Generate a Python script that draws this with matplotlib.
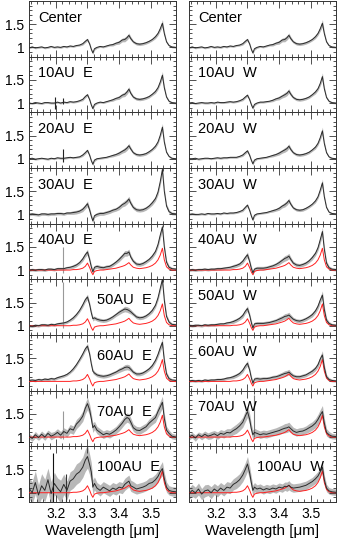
import matplotlib
matplotlib.use('Agg')
import matplotlib.pyplot as plt
from matplotlib.ticker import MultipleLocator, FixedLocator, FixedFormatter
import numpy as np

plt.rcParams['font.family'] = ['Liberation Sans', 'DejaVu Sans']

wavelength = [3.115, 3.125, 3.135, 3.145, 3.155, 3.165, 3.175, 3.185, 3.195, 3.205,
              3.215, 3.225, 3.235, 3.245, 3.255, 3.265, 3.275, 3.285, 3.293, 3.300,
              3.307, 3.312, 3.317, 3.322, 3.330, 3.340, 3.350, 3.360, 3.370, 3.380,
              3.390, 3.400, 3.410, 3.418, 3.425, 3.431, 3.437, 3.445, 3.455, 3.465,
              3.475, 3.485, 3.495, 3.505, 3.515, 3.523, 3.530, 3.537, 3.543, 3.550,
              3.558, 3.567, 3.580]

center = [0.99,1.01,0.99,1.00,1.01,0.99,1.00,1.02,1.00,1.01,1.00,1.02,1.01,1.03,1.02,1.04,1.05,1.08,1.13,1.17,
          1.07,0.96,0.88,0.97,1.00,1.02,1.01,1.03,1.05,1.06,1.09,1.11,1.16,1.17,1.21,1.26,1.19,1.12,1.08,1.07,
          1.08,1.10,1.13,1.17,1.23,1.30,1.40,1.52,1.30,1.12,1.04,1.01,1.00]
center_err = [0.02,0.02,0.02,0.02,0.02,0.02,0.02,0.02,0.02,0.02,0.02,0.02,0.02,0.02,0.02,0.02,0.02,0.03,0.03,0.03,
              0.03,0.03,0.03,0.03,0.02,0.02,0.02,0.02,0.02,0.03,0.03,0.04,0.04,0.05,0.05,0.05,0.04,0.03,0.03,0.03,
              0.03,0.03,0.03,0.03,0.04,0.04,0.05,0.08,0.05,0.03,0.02,0.02,0.02]

red_ref = [1.00,1.00,1.00,1.00,1.00,1.00,1.00,1.00,1.00,1.00,1.00,1.00,1.00,1.00,1.01,1.01,1.02,1.04,1.08,1.15,
           1.05,0.96,0.90,0.97,0.99,1.00,1.00,1.01,1.02,1.03,1.04,1.06,1.08,1.10,1.13,1.16,1.11,1.06,1.04,1.03,
           1.04,1.05,1.07,1.10,1.15,1.22,1.32,1.47,1.22,1.07,1.02,1.00,1.00]

au10_e = [1.00,0.99,1.01,1.00,0.99,1.01,1.01,1.00,1.00,1.02,1.00,1.02,1.01,1.03,1.02,1.03,1.05,1.08,1.14,1.18,
          1.07,0.96,0.88,0.97,1.00,1.02,1.01,1.03,1.05,1.07,1.10,1.12,1.17,1.19,1.24,1.30,1.21,1.13,1.09,1.08,
          1.09,1.11,1.14,1.19,1.25,1.33,1.45,1.60,1.33,1.13,1.04,1.01,1.00]
au20_e = [1.00,1.01,0.99,1.00,1.01,1.00,0.99,1.01,1.00,1.02,1.01,1.01,1.02,1.03,1.02,1.03,1.04,1.08,1.13,1.18,
          1.07,0.96,0.88,0.97,1.00,1.01,1.02,1.03,1.05,1.07,1.09,1.12,1.16,1.19,1.23,1.28,1.21,1.13,1.09,1.08,
          1.09,1.11,1.15,1.20,1.27,1.36,1.50,1.68,1.36,1.14,1.05,1.01,1.00]
au30_e = [1.00,1.01,1.00,0.99,1.01,1.01,1.00,1.01,1.01,1.02,1.02,1.01,1.03,1.03,1.04,1.05,1.07,1.11,1.17,1.23,
          1.09,0.96,0.86,0.97,1.00,1.02,1.02,1.04,1.06,1.09,1.11,1.15,1.21,1.24,1.28,1.33,1.24,1.15,1.10,1.09,
          1.10,1.13,1.18,1.25,1.34,1.48,1.70,1.97,1.50,1.18,1.06,1.02,1.01]
au40_e = [1.00,1.01,1.00,1.01,1.01,1.00,1.02,1.02,1.01,1.03,1.03,1.03,1.05,1.06,1.08,1.11,1.16,1.24,1.33,1.39,
          1.22,1.07,0.96,1.06,1.08,1.06,1.05,1.07,1.08,1.12,1.17,1.23,1.30,1.36,1.36,1.39,1.28,1.19,1.13,1.12,
          1.14,1.18,1.23,1.30,1.40,1.55,1.75,1.93,1.50,1.17,1.06,1.03,1.02]
au50_e = [1.00,0.99,1.01,1.00,1.02,1.02,1.01,1.03,1.02,1.04,1.05,1.06,1.08,1.12,1.17,1.24,1.33,1.45,1.56,1.62,
          1.45,1.28,1.15,1.17,1.14,1.12,1.11,1.12,1.15,1.19,1.24,1.29,1.33,1.36,1.35,1.33,1.30,1.25,1.19,1.17,
          1.18,1.21,1.26,1.33,1.44,1.60,1.80,2.00,1.55,1.20,1.08,1.03,1.02]
au60_e = [1.02,1.03,1.02,1.04,1.03,1.05,1.04,1.06,1.05,1.08,1.10,1.12,1.15,1.20,1.27,1.36,1.47,1.59,1.70,1.76,
          1.58,1.38,1.22,1.18,1.14,1.12,1.11,1.12,1.14,1.17,1.20,1.24,1.27,1.30,1.31,1.30,1.26,1.20,1.16,1.16,
          1.18,1.22,1.27,1.34,1.45,1.58,1.72,1.84,1.45,1.16,1.06,1.03,1.02]
au70_e = [1.02,0.97,1.05,0.99,1.06,1.00,1.08,1.02,1.05,1.10,1.04,1.12,1.08,1.18,1.15,1.28,1.35,1.45,1.62,1.72,
          1.58,1.40,1.20,1.25,1.15,1.10,1.05,1.08,1.06,1.10,1.15,1.22,1.30,1.38,1.42,1.40,1.32,1.20,1.15,1.14,
          1.18,1.22,1.30,1.36,1.42,1.55,1.65,1.75,1.40,1.15,1.08,1.02,1.00]
au100_e = [1.10,1.00,1.22,0.95,1.15,1.05,1.28,0.98,1.20,1.10,1.02,1.18,1.05,1.25,1.30,1.40,1.45,1.55,1.70,1.78,
           1.60,1.45,1.12,1.20,1.10,1.05,1.12,1.08,1.04,1.10,1.07,1.12,1.10,1.18,1.22,1.25,1.15,1.12,1.08,1.10,
           1.12,1.15,1.20,1.22,1.28,1.35,1.45,1.52,1.30,1.12,1.05,1.03,1.02]

au10_w = [1.00,1.01,0.99,1.00,1.01,1.00,1.00,1.01,1.00,1.02,1.01,1.01,1.02,1.03,1.02,1.03,1.05,1.08,1.13,1.17,
          1.07,0.97,0.89,0.97,1.00,1.02,1.02,1.03,1.04,1.06,1.09,1.11,1.15,1.18,1.21,1.26,1.19,1.12,1.08,1.07,
          1.08,1.10,1.13,1.18,1.24,1.31,1.42,1.57,1.31,1.12,1.04,1.01,1.00]
au20_w = [1.00,1.00,1.01,0.99,1.00,1.01,1.01,1.00,1.01,1.02,1.01,1.02,1.02,1.03,1.03,1.03,1.05,1.08,1.13,1.17,
          1.07,0.97,0.89,0.97,1.00,1.01,1.02,1.03,1.05,1.07,1.09,1.12,1.16,1.19,1.22,1.27,1.20,1.13,1.09,1.08,
          1.09,1.11,1.14,1.19,1.25,1.33,1.45,1.60,1.33,1.13,1.04,1.01,1.00]
au30_w = [1.00,1.01,1.00,1.00,1.01,1.00,1.02,1.01,1.01,1.02,1.01,1.03,1.02,1.03,1.03,1.04,1.06,1.09,1.15,1.20,
          1.08,0.97,0.88,0.98,1.01,1.02,1.03,1.04,1.06,1.08,1.10,1.13,1.18,1.21,1.25,1.30,1.22,1.14,1.10,1.09,
          1.10,1.13,1.17,1.22,1.29,1.38,1.52,1.68,1.38,1.15,1.05,1.02,1.01]
au40_w = [1.00,1.01,1.00,1.01,1.01,1.02,1.01,1.02,1.02,1.03,1.03,1.04,1.05,1.06,1.08,1.10,1.13,1.19,1.27,1.33,
          1.18,1.04,0.94,1.02,1.04,1.04,1.04,1.05,1.07,1.09,1.12,1.16,1.21,1.25,1.27,1.30,1.23,1.15,1.11,1.10,
          1.12,1.15,1.20,1.27,1.36,1.48,1.65,1.83,1.45,1.15,1.05,1.02,1.01]
au50_w = [1.01,1.00,1.01,1.01,1.00,1.02,1.01,1.02,1.02,1.03,1.04,1.04,1.06,1.07,1.09,1.12,1.16,1.22,1.31,1.37,
          1.22,1.07,0.95,1.04,1.05,1.05,1.05,1.06,1.07,1.09,1.11,1.14,1.17,1.20,1.21,1.23,1.19,1.14,1.11,1.10,
          1.12,1.15,1.19,1.24,1.32,1.42,1.55,1.66,1.35,1.12,1.05,1.02,1.01]
au60_w = [1.01,1.02,1.01,1.02,1.01,1.03,1.02,1.03,1.03,1.04,1.04,1.05,1.07,1.08,1.10,1.13,1.17,1.24,1.33,1.39,
          1.24,1.08,0.96,1.05,1.06,1.05,1.06,1.06,1.07,1.09,1.10,1.12,1.15,1.17,1.18,1.20,1.16,1.12,1.10,1.10,
          1.12,1.14,1.18,1.22,1.28,1.36,1.48,1.57,1.30,1.10,1.04,1.02,1.01]
au70_w = [1.00,1.04,0.98,1.05,1.01,1.06,1.02,1.04,1.07,1.03,1.08,1.06,1.10,1.09,1.14,1.18,1.24,1.32,1.45,1.55,
          1.38,1.18,1.05,1.10,1.08,1.05,1.07,1.06,1.08,1.10,1.12,1.14,1.17,1.19,1.20,1.22,1.18,1.13,1.10,1.12,
          1.13,1.16,1.20,1.24,1.30,1.38,1.47,1.55,1.30,1.10,1.05,1.02,1.01]
au100_w = [0.98,1.05,1.00,1.08,0.97,1.04,1.06,1.00,1.08,1.03,1.10,1.05,1.12,1.10,1.18,1.22,1.28,1.38,1.50,1.62,
           1.42,1.22,1.05,1.12,1.08,1.10,1.06,1.09,1.07,1.10,1.08,1.12,1.10,1.14,1.13,1.16,1.12,1.10,1.11,1.12,
           1.14,1.16,1.20,1.24,1.30,1.36,1.45,1.55,1.28,1.10,1.04,1.02,1.01]

err_low = center_err
err_mid = [0.03,0.03,0.03,0.03,0.03,0.03,0.03,0.03,0.03,0.03,0.03,0.03,0.03,0.03,0.04,0.04,0.04,0.05,0.05,0.06,
           0.05,0.05,0.05,0.04,0.04,0.04,0.04,0.04,0.04,0.04,0.04,0.05,0.05,0.06,0.06,0.06,0.05,0.04,0.04,0.04,
           0.04,0.04,0.04,0.05,0.05,0.06,0.07,0.09,0.07,0.05,0.04,0.03,0.03]
err_high = [0.06,0.06,0.07,0.06,0.07,0.07,0.07,0.08,0.07,0.08,0.08,0.08,0.08,0.09,0.09,0.10,0.10,0.11,0.12,0.13,
            0.12,0.11,0.10,0.09,0.08,0.08,0.08,0.08,0.08,0.08,0.08,0.09,0.09,0.10,0.10,0.10,0.09,0.08,0.08,0.08,
            0.08,0.08,0.09,0.09,0.10,0.11,0.12,0.13,0.11,0.08,0.07,0.06,0.06]
err_vhigh = [0.22,0.24,0.25,0.22,0.26,0.24,0.25,0.26,0.24,0.22,0.25,0.22,0.20,0.20,0.20,0.22,0.22,0.22,0.24,0.25,
             0.22,0.20,0.16,0.14,0.12,0.12,0.12,0.12,0.12,0.12,0.12,0.12,0.12,0.13,0.13,0.13,0.12,0.12,0.11,0.11,
             0.11,0.11,0.12,0.12,0.12,0.13,0.14,0.15,0.13,0.11,0.10,0.10,0.10]
err_w100 = [0.12,0.13,0.12,0.13,0.12,0.13,0.12,0.13,0.12,0.12,0.12,0.12,0.12,0.12,0.12,0.13,0.13,0.14,0.15,0.16,
            0.15,0.13,0.11,0.10,0.09,0.09,0.09,0.09,0.09,0.09,0.09,0.09,0.09,0.09,0.10,0.10,0.09,0.09,0.09,0.09,
            0.09,0.09,0.09,0.09,0.10,0.10,0.11,0.12,0.10,0.08,0.07,0.07,0.07]

labels_e = ['Center', '10AU  E', '20AU  E', '30AU  E', '40AU  E', '50AU  E', '60AU  E', '70AU  E', '100AU  E']
labels_w = ['Center', '10AU  W', '20AU  W', '30AU  W', '40AU  W', '50AU  W', '60AU  W', '70AU  W', '100AU  W']
series_e = [center, au10_e, au20_e, au30_e, au40_e, au50_e, au60_e, au70_e, au100_e]
series_w = [center, au10_w, au20_w, au30_w, au40_w, au50_w, au60_w, au70_w, au100_w]
errors_e = [err_low, err_low, err_low, err_mid, err_mid, err_mid, err_mid, err_high, err_vhigh]
errors_w = [err_low, err_low, err_low, err_low, err_mid, err_mid, err_mid, err_high, err_w100]
label_right_e = [False, False, False, False, False, True, True, True, True]
label_right_w = [False, False, False, False, False, False, False, False, True]
show_red = [False, False, False, False, True, True, True, True, True]

# spikes: (panel index, wavelength, low, high, colour)
spikes_e = [(1, 3.197, 0.88, 1.12, '#222222'), (1, 3.224, 0.97, 1.10, '#222222'),
            (2, 3.222, 0.93, 1.22, '#222222'),
            (4, 3.223, 0.93, 1.50, '#999999'),
            (5, 3.223, 0.95, 1.95, '#999999'),
            (7, 3.222, 0.95, 1.56, '#999999'),
            (8, 3.192, 0.80, 1.85, '#111111'), (8, 3.233, 0.80, 1.40, '#333333')]
spikes_w = [(7, 3.320, 1.00, 1.90, '#777777')]

fig = plt.figure(figsize=(3.39, 5.43), dpi=100)
lefts = [29/339, 189/339]
width = 147/339
top = 1 - 1/543
bottom = 41/543
h = (top - bottom) / 9

cols = [(series_e, errors_e, labels_e, label_right_e, spikes_e),
        (series_w, errors_w, labels_w, label_right_w, spikes_w)]
wl = np.array(wavelength)
for c, (series, errors, labels, lab_right, spikes) in enumerate(cols):
    for r in range(9):
        ax = fig.add_axes([lefts[c], top - (r + 1) * h, width, h])
        y = np.array(series[r])
        e = np.array(errors[r])
        ax.fill_between(wl, y - e, y + e, color='#b8b8b8', lw=0, zorder=1)
        for (pi, x, lo, hi, col) in spikes:
            if pi == r:
                ax.vlines(x, lo, hi, color=col, lw=0.8, zorder=2)
        if show_red[r]:
            ax.plot(wl, red_ref, color='#ff2020', lw=0.7, zorder=3)
        ax.plot(wl, y, color='#2a2a2a', lw=0.7, zorder=4)
        ax.set_xlim(3.115, 3.58)
        ax.set_ylim(0.8, 2.0)
        ax.xaxis.set_major_locator(FixedLocator([3.2, 3.3, 3.4, 3.5]))
        ax.xaxis.set_minor_locator(MultipleLocator(0.02))
        ax.yaxis.set_major_locator(FixedLocator([1.0, 1.5]))
        ax.yaxis.set_minor_locator(MultipleLocator(0.1))
        ax.tick_params(which='both', direction='in', top=True, right=True, width=0.6, colors='#333333', labelcolor='black')
        ax.tick_params(which='major', length=5, labelsize=10)
        ax.tick_params(which='minor', length=2.5)
        for s in ax.spines.values():
            s.set_linewidth(0.7)
            s.set_color('#333333')
        if c == 0:
            ax.yaxis.set_major_formatter(FixedFormatter(['1', '1.5']))
        else:
            ax.set_yticklabels([])
        if r == 8:
            ax.set_xticklabels(['3.2', '3.3', '3.4', '3.5'])
            ax.set_xlabel('Wavelength [μm]', fontsize=11, labelpad=2)
        else:
            ax.set_xticklabels([])
        if lab_right[r]:
            ax.text(68/147, 0.62, labels[r], transform=ax.transAxes, fontsize=10.5, va='center', ha='left')
        else:
            ax.text(9/147, 0.70, labels[r], transform=ax.transAxes, fontsize=10.5, va='center', ha='left')

fig.savefig('out.png', dpi=100)
